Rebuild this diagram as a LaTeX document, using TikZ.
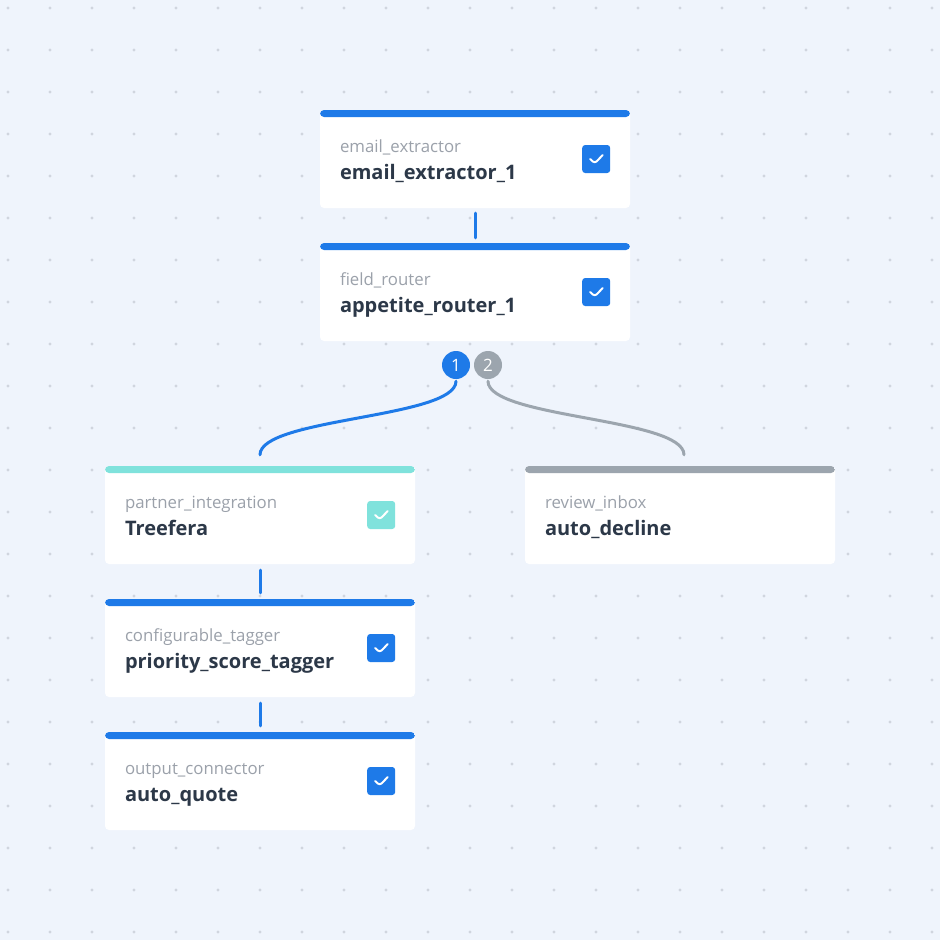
\documentclass[tikz,border=0pt]{standalone}
\usepackage{fontspec}
\setmainfont{Open Sans}
\usetikzlibrary{positioning}
\definecolor{flowbg}{RGB}{239,244,252}
\definecolor{flowdot}{RGB}{208,213,222}
\definecolor{flowblue}{RGB}{30,122,232}
\definecolor{flowteal}{RGB}{128,226,220}
\definecolor{flowgray}{RGB}{156,165,174}
\definecolor{flowtext}{RGB}{44,56,72}
\definecolor{flowlabel}{RGB}{155,161,170}

\tikzset{
  card/.style={rectangle, rounded corners=4pt, fill=white, minimum width=310pt,
    minimum height=98pt, inner sep=0pt,
    path picture={\fill[#1] (path picture bounding box.north west) rectangle
      ([yshift=-7pt]path picture bounding box.north east);}},
  kind/.style={anchor=base west, inner sep=0pt, text=flowlabel,
    font=\fontsize{16.8}{20}\selectfont},
  title/.style={anchor=base west, inner sep=0pt, text=flowtext,
    font=\fontsize{20}{24}\selectfont\bfseries},
  tick/.style={rectangle, rounded corners=3pt, fill=#1, minimum size=28pt, inner sep=0pt,
    path picture={\draw[white, line width=2pt, line cap=round, line join=round]
      ([shift={(-6pt,0pt)}]path picture bounding box.center) -- ++(4.5pt,-4.5pt) -- ++(8pt,8.5pt);}},
  badge/.style={circle, fill=#1, minimum size=28pt, inner sep=0pt, text=white,
    font=\fontsize{17}{20}\selectfont},
  link/.style={line width=3pt, draw=#1, line cap=round},
}

\begin{document}
\begin{tikzpicture}[x=1pt, y=-1pt]
% Canvas and dot grid
\fill[flowbg] (0,0) rectangle (940,940);
\useasboundingbox (0,0) rectangle (940,940);
\foreach \i in {0,...,22}
  \foreach \j in {0,...,22}
    \fill[flowdot] (8+42*\i, 8+42*\j) circle (1.6pt);

% Email extractor
\node[card=flowblue] (ext) at (475,159) {};
\node[kind] (extK) at ([xshift=20pt, yshift=7pt]ext.west) {email\_extractor};
\node[title] (extN) at ([xshift=20pt, yshift=-20pt]ext.west) {email\_extractor\_1};
\node[tick=flowblue] (extT) at ([xshift=-34pt]ext.east) {};

% Field router
\node[card=flowblue] (app) at (475,292) {};
\node[kind] (appK) at ([xshift=20pt, yshift=7pt]app.west) {field\_router};
\node[title] (appN) at ([xshift=20pt, yshift=-20pt]app.west) {appetite\_router\_1};
\node[tick=flowblue] (appT) at ([xshift=-34pt]app.east) {};

% Router branches
\node[badge=flowblue] (one) at (456,365) {1};
\node[badge=flowgray] (two) at (488,365) {2};

% Partner integration
\node[card=flowteal] (tree) at (260,515) {};
\node[kind] (treeK) at ([xshift=20pt, yshift=7pt]tree.west) {partner\_integration};
\node[title] (treeN) at ([xshift=20pt, yshift=-20pt]tree.west) {Treefera};
\node[tick=flowteal] (treeT) at ([xshift=-34pt]tree.east) {};

% Review inbox
\node[card=flowgray] (rev) at (680,515) {};
\node[kind] (revK) at ([xshift=20pt, yshift=7pt]rev.west) {review\_inbox};
\node[title] (revN) at ([xshift=20pt, yshift=-20pt]rev.west) {auto\_decline};

% Configurable tagger
\node[card=flowblue] (tag) at (260,648) {};
\node[kind] (tagK) at ([xshift=20pt, yshift=7pt]tag.west) {configurable\_tagger};
\node[title] (tagN) at ([xshift=20pt, yshift=-20pt]tag.west) {priority\_score\_tagger};
\node[tick=flowblue] (tagT) at ([xshift=-34pt]tag.east) {};

% Output connector
\node[card=flowblue] (out) at (260,781) {};
\node[kind] (outK) at ([xshift=20pt, yshift=7pt]out.west) {output\_connector};
\node[title] (outN) at ([xshift=20pt, yshift=-20pt]out.west) {auto\_quote};
\node[tick=flowblue] (outT) at ([xshift=-34pt]out.east) {};

% Connectors
\draw[link=flowblue] ([yshift=-5pt]ext.south) -- ([yshift=5pt]app.north);
\draw[link=flowblue] ([yshift=-2pt]one.south) .. controls +(0,37) and +(0,-37) .. ([yshift=11pt]tree.north);
\draw[link=flowgray] ([yshift=-2pt]two.south) .. controls +(0,37) and +(0,-37) .. ([shift={(4pt,11pt)}]rev.north);
\draw[link=flowblue] ([yshift=-6pt]tree.south) -- ([yshift=6pt]tag.north);
\draw[link=flowblue] ([yshift=-6pt]tag.south) -- ([yshift=6pt]out.north);
\end{tikzpicture}
\end{document}
